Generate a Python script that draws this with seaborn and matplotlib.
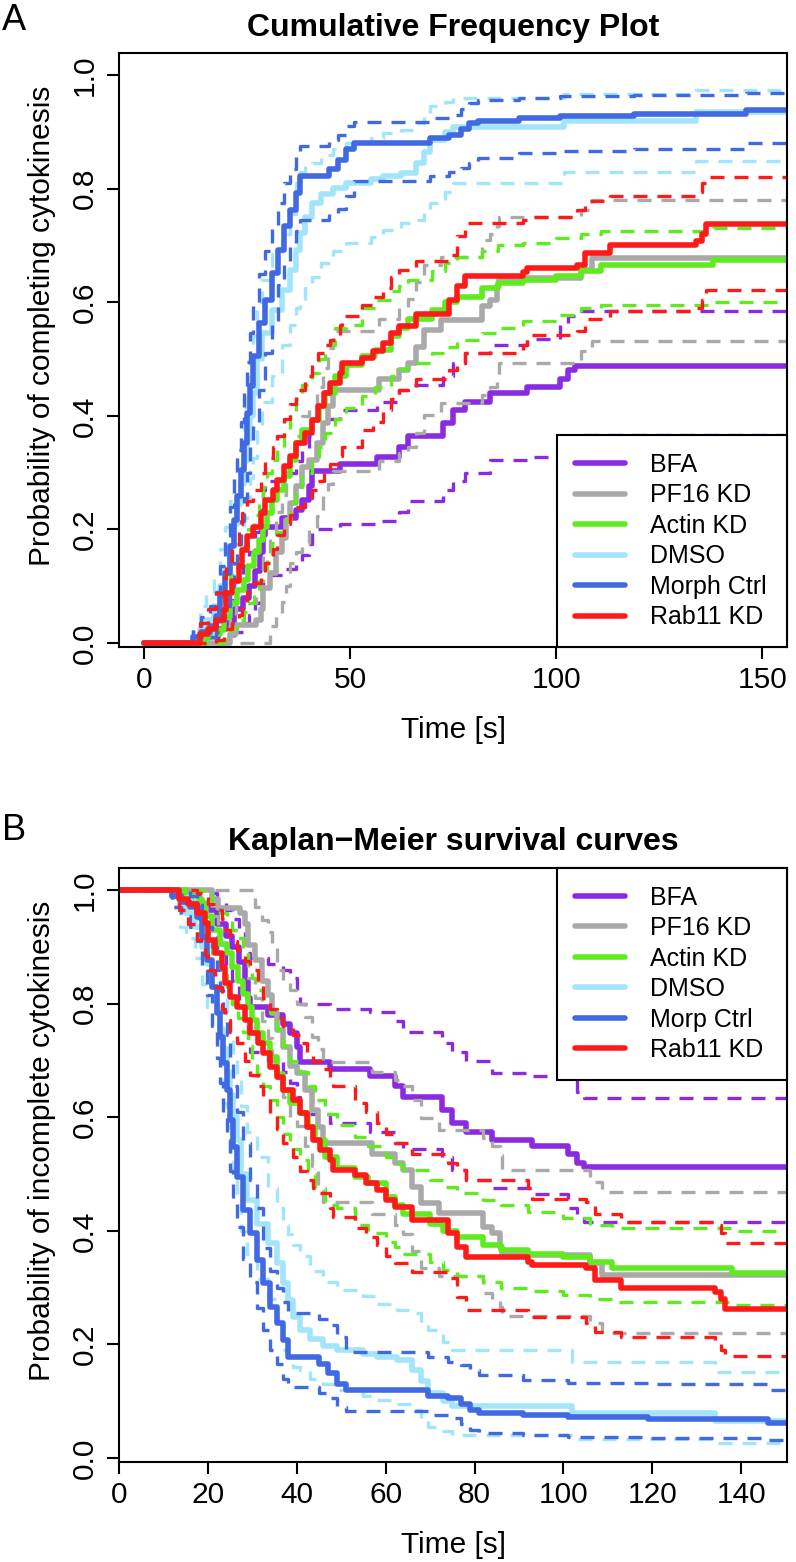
"""
Cytokinesis timing: cumulative frequency (A) and Kaplan-Meier survival (B)
for six treatment groups, each with its 95% confidence band (dashed).
"""

import numpy as np
import matplotlib
matplotlib.use("Agg")
import matplotlib.pyplot as plt
import seaborn as sns

# survival estimates: event times [s], S(t), lower / upper CI
bfa_t = [0, 12, 18, 20, 22, 24, 25.5, 27, 28.3, 29, 29.5, 33.5, 37, 38.5, 40, 40.7, 47.5, 56.5,
         62, 64, 72.6, 75, 78, 84, 93, 101, 103, 104.6]
bfa_s = [1, .99, .975, .965, .94, .92, .90, .874, .84, .81, .795, .78, .765, .748, .724, .697, .685, .673,
         .655, .636, .612, .59, .575, .56, .55, .535, .52, .513]
bfa_lo = [1, .97, .945, .925, .89, .865, .84, .805, .765, .73, .715, .70, .68, .66, .635, .605, .59, .575,
          .555, .545, .53, .507, .49, .475, .465, .44, .425, .416]
bfa_hi = [1, 1, 1, .995, .98, .965, .95, .93, .91, .89, .88, .87, .86, .845, .825, .80, .79, .786,
          .77, .75, .73, .715, .70, .678, .672, .665, .645, .634]

pf16_t = [0, 21, 22.3, 27.2, 28.4, 29, 30.6, 32.1, 33.5, 34.4, 35.5, 36.9, 38.5, 40, 41.9, 43.4, 44.8,
          45.9, 57, 62, 64, 66, 68, 72, 82, 84, 85.7, 86.2, 106, 108.7]
pf16_s = [1, .985, .968, .96, .94, .903, .877, .84, .815, .783, .754, .724, .69, .678, .648, .613, .583,
          .554, .536, .52, .507, .478, .449, .431, .407, .396, .372, .357, .343, .322]
pf16_lo = [1, .955, .93, .915, .89, .845, .81, .77, .74, .70, .67, .635, .60, .585, .55, .515, .48,
           .45, .43, .41, .395, .365, .335, .32, .29, .28, .266, .25, .237, .22]
pf16_hi = [1, 1, 1, 1, 1, 1, .97, .947, .927, .90, .86, .84, .824, .80, .777, .742, .72,
           .698, .68, .665, .655, .63, .598, .577, .563, .55, .533, .507, .486, .469]

actin_t = [0, 15, 17, 18.6, 19.5, 20.9, 22.7, 24.2, 25.4, 26.8, 28, 29, 29.9, 31, 32.4, 34, 35.5, 37,
           38.5, 40.7, 42.5, 44, 46.4, 49, 53, 56, 60, 62, 64, 70, 73, 76, 82, 86, 92, 100, 106, 111, 138]
actin_s = [1, .99, .985, .977, .955, .93, .906, .889, .865, .84, .818, .795, .771, .748, .73, .706, .677, .648,
           .625, .607, .583, .56, .53, .51, .495, .484, .46, .445, .43, .413, .40, .39, .375, .366, .36, .354,
           .345, .334, .326]
actin_lo = [1, .97, .96, .945, .915, .88, .85, .83, .80, .775, .75, .725, .70, .677, .655, .63, .60, .57,
            .545, .525, .50, .475, .445, .44, .41, .396, .38, .372, .36, .345, .331, .32, .31, .30, .295, .287,
            .28, .275, .27]
actin_hi = [1, 1, 1, 1, .995, .975, .96, .945, .93, .915, .89, .87, .845, .824, .805, .783, .754, .725,
            .70, .68, .655, .63, .605, .586, .565, .55, .53, .518, .507, .49, .478, .466, .454, .445, .433, .422,
            .41, .405, .40]

dmso_t = [0, 12, 13.7, 15, 17, 18.6, 19.7, 20.9, 22, 22.7, 23.5, 24.2, 25, 25.7, 26.5, 27.5, 28.7, 31,
          33.5, 35.5, 37, 38, 39.2, 40.7, 43, 46, 49, 55, 58, 62.5, 66, 68, 69.5, 73, 75, 102, 134]
dmso_s = [1, .99, .975, .96, .935, .90, .87, .83, .79, .755, .72, .68, .64, .60, .56, .50, .454, .413,
          .378, .343, .308, .278, .249, .225, .21, .198, .19, .183, .178, .172, .155, .135, .115, .10, .092,
          .08, .065]
dmso_lo = [1, .97, .935, .915, .88, .835, .795, .75, .705, .665, .625, .585, .54, .50, .46, .40, .36, .315,
           .28, .245, .19, .17, .16, .155, .14, .13, .12, .11, .102, .096, .085, .07, .055, .047, .04,
           .033, .026]
dmso_hi = [1, 1, 1, .99, .975, .955, .93, .90, .87, .84, .81, .78, .745, .71, .675, .62, .575, .53,
           .475, .44, .41, .395, .375, .355, .33, .31, .296, .285, .272, .26, .255, .24, .225, .205, .19,
           .17, .152]

morph_t = [0, 12, 14, 16, 17.5, 18.6, 19.7, 20.9, 22, 22.7, 23.5, 24.2, 25, 25.7, 26.5, 28, 29.5, 31,
           32.5, 34, 35.5, 37, 38, 45, 47, 49, 51, 69.5, 74, 77, 79, 81, 91, 101, 119, 146]
morph_s = [1, .99, .98, .97, .953, .918, .877, .83, .783, .742, .695, .648, .595, .548, .495, .437, .396, .349,
           .308, .266, .237, .208, .178, .165, .15, .13, .12, .11, .105, .095, .085, .08, .076, .072, .068, .062]
morph_lo = [1, .97, .955, .935, .91, .865, .815, .76, .705, .66, .61, .56, .505, .454, .407, .35, .31, .265,
            .225, .19, .165, .14, .125, .115, .105, .09, .083, .075, .07, .06, .05, .044, .04, .037, .035, .032]
morph_hi = [1, 1, 1, .99, .98, .96, .935, .90, .86, .825, .785, .745, .70, .655, .61, .555, .49, .44,
            .37, .33, .30, .275, .255, .245, .235, .213, .187, .178, .17, .164, .155, .146, .137, .133, .13, .12]

rab11_t = [0, 13.6, 15.5, 17.5, 19.4, 20, 21.5, 23.1, 23.9, 25, 26.5, 28.4, 29.5, 31.3, 32.4, 34, 35.5, 37,
           39.2, 40.7, 42.2, 43.7, 45.2, 47.5, 48.2, 53, 55.5, 58, 60, 62, 66, 74, 76, 78, 92, 93, 105, 107,
           113, 134, 135.4, 136.4]
rab11_s = [1, .985, .975, .96, .942, .912, .89, .865, .836, .812, .795, .771, .748, .73, .713, .689, .671, .648,
           .63, .607, .583, .56, .542, .525, .507, .498, .485, .472, .455, .442, .42, .396, .372, .354, .346, .34,
           .334, .313, .30, .292, .28, .262]
rab11_lo = [1, .965, .94, .912, .885, .86, .83, .79, .771, .75, .73, .70, .675, .655, .635, .605, .58, .555,
            .53, .505, .489, .475, .466, .44, .425, .405, .39, .375, .355, .343, .328, .317, .284, .26, .255, .249,
            .237, .222, .213, .205, .19, .18]
rab11_hi = [1, 1, 1, .995, .99, .975, .965, .95, .93, .91, .895, .875, .86, .835, .81, .79, .775, .76,
            .745, .73, .715, .70, .685, .671, .655, .625, .61, .59, .57, .554, .536, .52, .507, .49, .475, .457,
            .451, .43, .416, .41, .396, .378]

FOLLOW_UP = 160  # last follow-up time, curves run past the plotted window

labels_a = ["BFA", "PF16 KD", "Actin KD", "DMSO", "Morph Ctrl", "Rab11 KD"]
labels_b = ["BFA", "PF16 KD", "Actin KD", "DMSO", "Morp Ctrl", "Rab11 KD"]
colours = ["#8A2BE2", "#A9A9A9", "#5FEB1F", "#A2E4FA", "#4169E1", "#FF1A1A"]

curves = [(bfa_t, bfa_s, bfa_lo, bfa_hi), (pf16_t, pf16_s, pf16_lo, pf16_hi),
          (actin_t, actin_s, actin_lo, actin_hi), (dmso_t, dmso_s, dmso_lo, dmso_hi),
          (morph_t, morph_s, morph_lo, morph_hi), (rab11_t, rab11_s, rab11_lo, rab11_hi)]

sns.set_style("ticks")
plt.rcParams["font.family"] = ["Liberation Sans", "DejaVu Sans"]
plt.rcParams.update({"text.color": "black", "axes.labelcolor": "black",
                     "xtick.color": "black", "ytick.color": "black"})

fig = plt.figure(figsize=(7.96, 15.62), dpi=100)
ax_a = fig.add_axes([0.1495, 0.5858, 0.8392, 0.3803])
ax_b = fig.add_axes([0.1495, 0.0640, 0.8392, 0.3803])

DASH = (0, (4.2, 3.0))


def draw_curves(ax, cumulative):
    """step curves (solid estimate + dashed CI) for every group; returns legend handles"""
    handles = []
    for (t, s, lo, hi), col in zip(curves, colours):
        tt = np.append(t, FOLLOW_UP)
        for vals, lw, ls in ((s, 4.0, "-"), (lo, 2.4, DASH), (hi, 2.4, DASH)):
            v = np.append(vals, vals[-1])
            if cumulative:
                v = 1 - v
            sns.lineplot(x=tt, y=v, ax=ax, color=col, lw=lw, linestyle=ls,
                         drawstyle="steps-post", estimator=None, sort=False, errorbar=None)
            if ls == "-":
                handles.append(ax.lines[-1])
    return handles


def style_axes(ax, xticks, xlim, title, ylabel, title_pad):
    ax.set_xlim(*xlim)
    ax.set_ylim(-0.007, 1.039)
    ax.set_xticks(xticks)
    ax.set_xticklabels([str(x) for x in xticks])
    yt = [0, 0.2, 0.4, 0.6, 0.8, 1.0]
    ax.set_yticks(yt)
    ax.set_yticklabels([f"{y:.1f}" for y in yt], rotation=90, va="center")
    for side in ax.spines.values():
        side.set_visible(True)
        side.set_color("black")
        side.set_linewidth(1.5)
    ax.tick_params(axis="both", direction="out", length=8.5, width=1.5, labelsize=21.5, color="black")
    ax.tick_params(axis="x", pad=5)
    ax.tick_params(axis="y", pad=6)
    ax.set_title(title, fontsize=23, fontweight="bold", pad=title_pad)
    ax.set_xlabel("Time [s]", fontsize=21.5, labelpad=16)
    ax.set_ylabel(ylabel, fontsize=21.5)
    ax.yaxis.set_label_coords(-0.094, 0.54)
    ax.grid(False)


def add_legend(ax, handles, labels, loc, anchor):
    leg = ax.legend(handles, labels, loc=loc, bbox_to_anchor=anchor, mode="expand",
                    fontsize=18, frameon=True, fancybox=False, borderaxespad=0,
                    handlelength=2.0, handletextpad=1.0, labelspacing=0.26, borderpad=0.7)
    frame = leg.get_frame()
    frame.set_edgecolor("black")
    frame.set_linewidth(1.5)
    frame.set_alpha(1)
    return leg


h_a = draw_curves(ax_a, cumulative=True)
style_axes(ax_a, [0, 50, 100, 150], (-6, 156), "Cumulative Frequency Plot",
           "Probability of completing cytokinesis", 12)
add_legend(ax_a, h_a, labels_a, "lower left", (0.656, 0, 0.344, 0.4))

h_b = draw_curves(ax_b, cumulative=False)
style_axes(ax_b, list(range(0, 141, 20)), (0, 150.3), "Kaplan\u2212Meier survival curves",
           "Probability of incomplete cytokinesis", 13)
add_legend(ax_b, h_b, labels_b, "upper left", (0.656, 0.5, 0.344, 0.5))

# panel letters
fig.text(14 / 796, 1 - 20 / 1562, "A", fontsize=26, ha="center", va="center")
fig.text(14 / 796, 1 - 830 / 1562, "B", fontsize=26, ha="center", va="center")

fig.savefig("out.png", dpi=100)
